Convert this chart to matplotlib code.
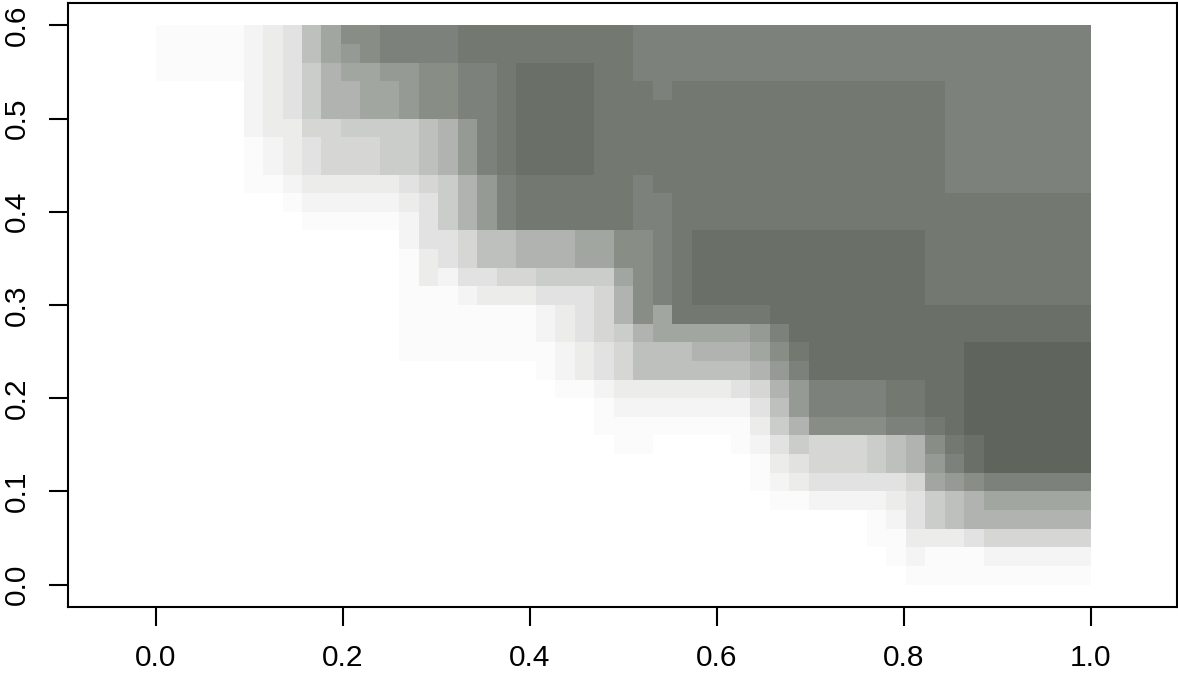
import numpy as np
import matplotlib
matplotlib.use('Agg')
import matplotlib.pyplot as plt
from matplotlib.colors import LinearSegmentedColormap

plt.rcParams['font.family'] = ['Liberation Sans', 'DejaVu Sans']

# shade levels '0'..'f' -> opacity of the dark grey-green over white
level_codes = '0123456789abcdef'
level_alpha = [0, 0.03, 0.07, 0.12, 0.18, 0.25, 0.32, 0.40, 0.48, 0.56,
               0.64, 0.72, 0.79, 0.85, 0.90, 0.97]
dark_colour = '#5a6158'

# grid: 49 columns centred on x = 0, 1/48, ..., 1 ; 30 rows of 0.02 from 0 to 0.6
x_centres = np.linspace(0, 1, 49)
y_edges = np.linspace(0, 0.6, 31)

# one string per column, read bottom (y=0) to top (y=0.6)
col_levels = [
    "000000000000000000000000000111",
    "000000000000000000000000000111",
    "000000000000000000000000000111",
    "000000000000000000000000000111",
    "000000000000000000000000000111",
    "000000000000000000000111222222",
    "000000000000000000000122333333",
    "000000000000000000001233344444",
    "000000000000000000012344566677",
    "000000000000000000012355588899",
    "0000000000000000000123556889ab",
    "0000000000000000000123556999bb",
    "000000000000000000012366699acc",
    "0000000000001111112234666aaacc",
    "0000000000001111334445777bbbcc",
    "0000000000001111244666888bbbcc",
    "0000000000001112455888aaacccdd",
    "0000000000001113477aaaccccccdd",
    "0000000000001113577cccdddddddd",
    "0000000000001113588dddeeeeeedd",
    "0000000000011224688dddeeeeeedd",
    "0000000000122334688dddeeeeeedd",
    "0000000000133444699dddeeeeeedd",
    "0000000011244555699ddddddddddd",
    "00000001123556889bbddddddddddd",
    "00000001123778bbbbbcccdddddccc",
    "000000001237799ccccccdddddcccc",
    "00000000123779dddddddddddddccc",
    "00000000123789deeeeddddddddccc",
    "00000000123789deeeeddddddddccc",
    "00000001124789deeeeddddddddccc",
    "0000011234589adeeeeddddddddccc",
    "00001234678abceeeeeddddddddccc",
    "000013468aacdeeeeeeddddddddccc",
    "00002455bcceeeeeeeeddddddddccc",
    "00002455bcceeeeeeeeddddddddccc",
    "00002455bcceeeeeeeeddddddddccc",
    "00112466bcceeeeeeeeddddddddccc",
    "01123477cddeeeeeeeeddddddddccc",
    "12344588cddeeeeeeeeddddddddccc",
    "113669abdeeeeeeddddddddddddccc",
    "11377acdeeeeeeeddddddccccccccc",
    "11488beefffffeeddddddccccccccc",
    "12589cfffffffeeddddddccccccccc",
    "12589cfffffffeeddddddccccccccc",
    "12589cfffffffeeddddddccccccccc",
    "12589cfffffffeeddddddccccccccc",
    "12589cfffffffeeddddddccccccccc",
    "12589cfffffffeeddddddccccccccc",
]

x_ticks = [0.0, 0.2, 0.4, 0.6, 0.8, 1.0]
y_ticks = [0.0, 0.1, 0.2, 0.3, 0.4, 0.5, 0.6]

# cell edges halfway between centres, clipped to [0, 1]
x_edges = np.concatenate([[0], (x_centres[:-1] + x_centres[1:]) / 2, [1]])
shade = np.array([[level_alpha[level_codes.index(c)] for c in s] for s in col_levels]).T

cmap = LinearSegmentedColormap.from_list('shade', ['white', dark_colour])

fig = plt.figure(figsize=(11.78, 6.8), dpi=100)
ax = fig.add_axes([68/1178, 73/680, 1109/1178, 604/680])
ax.pcolormesh(x_edges, y_edges, shade, cmap=cmap, vmin=0, vmax=1,
              shading='flat', antialiased=False, edgecolors='none', linewidth=0)

ax.set_xlim(-0.094, 1.092)
ax.set_ylim(-0.024, 0.624)
ax.set_xticks(x_ticks)
ax.set_yticks(y_ticks)
ax.set_xticklabels(['%.1f' % v for v in x_ticks])
ax.set_yticklabels(['%.1f' % v for v in y_ticks], rotation=90, va='center')
ax.tick_params(axis='both', direction='out', length=13.5, width=1.5,
               labelsize=21.5, pad=13, colors='black')
for sp in ax.spines.values():
    sp.set_linewidth(1.5)
    sp.set_color('black')

fig.savefig('out.png', dpi=100)
